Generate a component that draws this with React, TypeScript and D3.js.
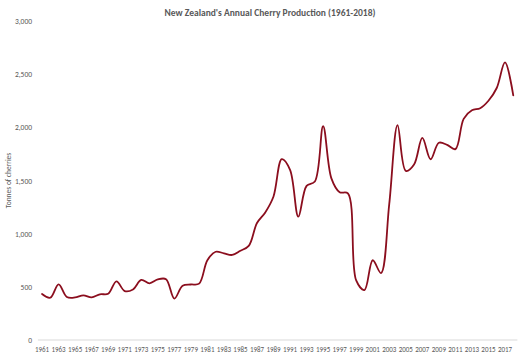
import React from "react";
import * as d3 from "d3";

const years: number[] = [
  1961, 1962, 1963, 1964, 1965, 1966, 1967, 1968, 1969, 1970,
  1971, 1972, 1973, 1974, 1975, 1976, 1977, 1978, 1979, 1980,
  1981, 1982, 1983, 1984, 1985, 1986, 1987, 1988, 1989, 1990,
  1991, 1992, 1993, 1994, 1995, 1996, 1997, 1998, 1999, 2000,
  2001, 2002, 2003, 2004, 2005, 2006, 2007, 2008, 2009, 2010,
  2011, 2012, 2013, 2014, 2015, 2016, 2017, 2018,
];

const tonnes: number[] = [
  432, 398, 524, 405, 400, 420, 400, 430, 435, 552,
  460, 475, 565, 533, 570, 572, 390, 510, 522, 530,
  750, 830, 815, 800, 840, 885, 1100, 1200, 1350, 1700,
  1600, 1160, 1450, 1490, 2010, 1520, 1390, 1378, 560, 470,
  750, 630, 1280, 2020, 1590, 1650, 1900, 1700, 1855, 1835,
  1795, 2080, 2160, 2180, 2250, 2370, 2610, 2300,
];

const yTicks: number[] = [0, 500, 1000, 1500, 2000, 2500, 3000];

const W = 525;
const H = 356;
const left = 37.9;
const right = 517.4;
const top = 21;
const bottom = 340;

export default function App() {
  const x = d3
    .scalePoint<number>()
    .domain(years)
    .range([left, right])
    .padding(0.5);
  const y = d3.scaleLinear().domain([0, 3000]).range([bottom, top]);
  const line = d3
    .line<number>()
    .x((_, i) => x(years[i]) as number)
    .y((d) => y(d))
    .curve(d3.curveCatmullRom.alpha(0.5));
  const fmt = d3.format(",");
  const font = "Carlito, 'Liberation Sans', Arial, sans-serif";
  return (
    <svg
      width={W}
      height={H}
      style={{ position: "absolute", left: 0, top: 0, background: "#fff" }}
      fontFamily={font}
    >
      <rect x={0} y={0} width={W} height={H} fill="#fff" />
      <text
        x={270}
        y={16}
        textAnchor="middle"
        fontSize={9.5}
        fontWeight="bold"
        fill="#595959"
      >
        New Zealand's Annual Cherry Production (1961-2018)
      </text>
      <line x1={left} x2={right} y1={y(0)} y2={y(0)} stroke="#d9d9d9" strokeWidth={1} />
      {yTicks.map((t) => (
        <text
          key={t}
          x={32}
          y={y(t) + 3}
          textAnchor="end"
          fontSize={7.5}
          fill="#595959"
        >
          {fmt(t)}
        </text>
      ))}
      {years
        .filter((yr) => (yr - 1961) % 2 === 0)
        .map((yr) => (
          <text
            key={yr}
            x={x(yr) as number}
            y={352}
            textAnchor="middle"
            fontSize={7}
            fill="#595959"
          >
            {yr}
          </text>
        ))}
      <text
        transform={`translate(11,${(top + bottom) / 2}) rotate(-90)`}
        textAnchor="middle"
        fontSize={7.5}
        fill="#595959"
      >
        Tonnes of cherries
      </text>
      <path
        d={line(tonnes) || ""}
        fill="none"
        stroke="#8b0e1e"
        strokeWidth={1.8}
        strokeLinejoin="round"
        strokeLinecap="round"
      />
    </svg>
  );
}
